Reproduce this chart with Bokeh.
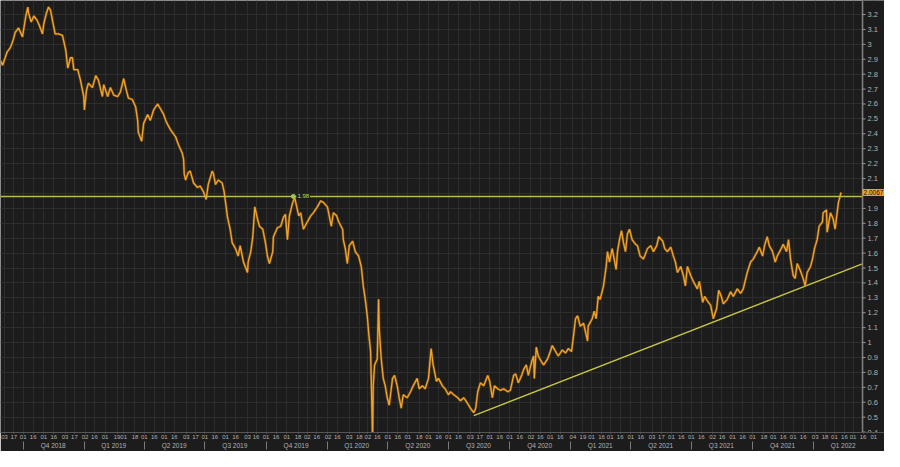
import pandas as pd
from bokeh.plotting import figure
from bokeh.models import (Range1d, LinearAxis, FixedTicker, Grid, Label,
                          CustomJSTickFormatter, ColumnDataSource)
from bokeh.core.properties import value
from bokeh.embed import file_html
from bokeh.resources import INLINE

# ---------------- data ----------------
dates = [
    "2018-08-28", "2018-08-31", "2018-09-07", "2018-09-12", "2018-09-16", "2018-09-19", "2018-09-24", "2018-09-30",
    "2018-10-01", "2018-10-05", "2018-10-08", "2018-10-09", "2018-10-13", "2018-10-17", "2018-10-22", "2018-10-25",
    "2018-10-30", "2018-11-01", "2018-11-05", "2018-11-08", "2018-11-11", "2018-11-14", "2018-11-18", "2018-11-23",
    "2018-11-29", "2018-12-04", "2018-12-07", "2018-12-11", "2018-12-14", "2018-12-16", "2018-12-22", "2018-12-26",
    "2018-12-31", "2019-01-01", "2019-01-04", "2019-01-07", "2019-01-13", "2019-01-18", "2019-01-22", "2019-01-28",
    "2019-01-30", "2019-02-05", "2019-02-09", "2019-02-14", "2019-02-20", "2019-02-24", "2019-03-01", "2019-03-04",
    "2019-03-08", "2019-03-14", "2019-03-19", "2019-03-22", "2019-03-23", "2019-03-28", "2019-03-31", "2019-04-06",
    "2019-04-10", "2019-04-15", "2019-04-21", "2019-04-25", "2019-04-30", "2019-05-04", "2019-05-10",
    "2019-05-18", "2019-05-22", "2019-05-28", "2019-05-30", "2019-05-31", "2019-06-02", "2019-06-06", "2019-06-09",
    "2019-06-14", "2019-06-20", "2019-06-24", "2019-06-29", "2019-07-03", "2019-07-06", "2019-07-12", "2019-07-14",
    "2019-07-17", "2019-07-21", "2019-07-27", "2019-07-30", "2019-08-02", "2019-08-04", "2019-08-08", "2019-08-11",
    "2019-08-16", "2019-08-20", "2019-08-23", "2019-08-28", "2019-09-03", "2019-09-04", "2019-09-08", "2019-09-11",
    "2019-09-14", "2019-09-18", "2019-09-21", "2019-09-26", "2019-09-30", "2019-10-03", "2019-10-06", "2019-10-11",
    "2019-10-12", "2019-10-18", "2019-10-23", "2019-10-27", "2019-10-30", "2019-11-02", "2019-11-05", "2019-11-10",
    "2019-11-13", "2019-11-16", "2019-11-19", "2019-11-22",
    "2019-11-26", "2019-12-02", "2019-12-07", "2019-12-11", "2019-12-17", "2019-12-22", "2019-12-26", "2020-01-01",
    "2020-01-03", "2020-01-07", "2020-01-10", "2020-01-15", "2020-01-18", "2020-01-24", "2020-01-25", "2020-01-28",
    "2020-01-31", "2020-02-03", "2020-02-08", "2020-02-12", "2020-02-17", "2020-02-21", "2020-02-24", "2020-02-27",
    "2020-03-01", "2020-03-03", "2020-03-06", "2020-03-07", "2020-03-09", "2020-03-10", "2020-03-12", "2020-03-16",
    "2020-03-18", "2020-03-19", "2020-03-22", "2020-03-25", "2020-03-28", "2020-03-31", "2020-04-03", "2020-04-08",
    "2020-04-11", "2020-04-15", "2020-04-18", "2020-04-21", "2020-04-24", "2020-04-30", "2020-05-05", "2020-05-09",
    "2020-05-15", "2020-05-18", "2020-05-23", "2020-05-27", "2020-06-01", "2020-06-05", "2020-06-08", "2020-06-13",
    "2020-06-16", "2020-06-22", "2020-06-26", "2020-07-01", "2020-07-04",
    "2020-07-09", "2020-07-15", "2020-07-19", "2020-07-24", "2020-07-30", "2020-08-03", "2020-08-08", "2020-08-11",
    "2020-08-14", "2020-08-18", "2020-08-23", "2020-08-29", "2020-09-01", "2020-09-05", "2020-09-08", "2020-09-13",
    "2020-09-17", "2020-09-22", "2020-09-28", "2020-10-02", "2020-10-07", "2020-10-10", "2020-10-14", "2020-10-19",
    "2020-10-22", "2020-10-26", "2020-10-29", "2020-11-03", "2020-11-06", "2020-11-07", "2020-11-10", "2020-11-13",
    "2020-11-18", "2020-11-21", "2020-11-27", "2020-12-01", "2020-12-04", "2020-12-09", "2020-12-13", "2020-12-19",
    "2020-12-24", "2020-12-28", "2021-01-02", "2021-01-05", "2021-01-08", "2021-01-11", "2021-01-15", "2021-01-20",
    "2021-01-23", "2021-01-26", "2021-01-27", "2021-02-02", "2021-02-05", "2021-02-08", "2021-02-11",
    "2021-02-14", "2021-02-19", "2021-02-23", "2021-02-25", "2021-02-28", "2021-03-04", "2021-03-07", "2021-03-10",
    "2021-03-12", "2021-03-15", "2021-03-18", "2021-03-21", "2021-03-24", "2021-03-27", "2021-03-30", "2021-04-03",
    "2021-04-08", "2021-04-11", "2021-04-15", "2021-04-20", "2021-04-26", "2021-05-01", "2021-05-05", "2021-05-10",
    "2021-05-13", "2021-05-19", "2021-05-22", "2021-05-26", "2021-05-31", "2021-06-04", "2021-06-07", "2021-06-10",
    "2021-06-15", "2021-06-19", "2021-06-22", "2021-06-25", "2021-06-30", "2021-07-04", "2021-07-10", "2021-07-13",
    "2021-07-18", "2021-07-21", "2021-07-25", "2021-07-30", "2021-08-03", "2021-08-08", "2021-08-11", "2021-08-15",
    "2021-08-18", "2021-08-24", "2021-08-29", "2021-09-02", "2021-09-08", "2021-09-13",
    "2021-09-17", "2021-09-23", "2021-09-28", "2021-10-02", "2021-10-08", "2021-10-11", "2021-10-16", "2021-10-19",
    "2021-10-23", "2021-10-26", "2021-10-31", "2021-11-04", "2021-11-07", "2021-11-13", "2021-11-16", "2021-11-21",
    "2021-11-24", "2021-11-27", "2021-12-01", "2021-12-04", "2021-12-07", "2021-12-12", "2021-12-16", "2021-12-19",
    "2021-12-22", "2021-12-27", "2021-12-30", "2022-01-02", "2022-01-06", "2022-01-09", "2022-01-14", "2022-01-15",
    "2022-01-20", "2022-01-21", "2022-01-26", "2022-01-30", "2022-02-02", "2022-02-05", "2022-02-07", "2022-02-10",
    "2022-02-11",
]
values = [
    2.89, 2.86, 2.95, 2.98, 3.03, 3.08, 3.11, 3.05,
    3.08, 3.19, 3.25, 3.21, 3.15, 3.19, 3.16, 3.13,
    3.07, 3.14, 3.21, 3.25, 3.23, 3.16, 3.07, 3.07,
    3.06, 2.96, 2.84, 2.91, 2.91, 2.83, 2.83, 2.76,
    2.65, 2.56, 2.69, 2.74, 2.71, 2.79, 2.76, 2.65,
    2.73, 2.65, 2.71, 2.66, 2.65, 2.68, 2.77, 2.71,
    2.64, 2.63, 2.58, 2.49, 2.41, 2.35, 2.47, 2.53,
    2.49, 2.56, 2.60, 2.57, 2.53, 2.48, 2.43,
    2.38, 2.33, 2.27, 2.23, 2.13, 2.09, 2.14, 2.15,
    2.07, 2.04, 2.05, 2.01, 1.96, 2.06, 2.15, 2.13,
    2.06, 2.09, 2.07, 2.01, 1.91, 1.84, 1.76, 1.67,
    1.63, 1.58, 1.65, 1.54, 1.47, 1.54, 1.61, 1.71,
    1.91, 1.83, 1.78, 1.76, 1.67, 1.58, 1.53, 1.61,
    1.71, 1.77, 1.78, 1.84, 1.86, 1.69, 1.85, 1.94,
    1.97, 1.91, 1.85, 1.87,
    1.76, 1.81, 1.85, 1.87, 1.91, 1.95, 1.94, 1.91,
    1.87, 1.78, 1.87, 1.85, 1.81, 1.76, 1.69, 1.63,
    1.53, 1.65, 1.68, 1.61, 1.58, 1.51, 1.38, 1.29,
    1.18, 1.07, 0.94, 0.76, 0.34, 0.71, 0.85, 0.89,
    1.29, 1.09, 0.89, 0.76, 0.71, 0.63, 0.58, 0.76,
    0.78, 0.71, 0.63, 0.56, 0.65, 0.63, 0.67, 0.71,
    0.76, 0.69, 0.71, 0.69, 0.76, 0.96, 0.85, 0.74,
    0.76, 0.71, 0.69, 0.65, 0.67,
    0.65, 0.63, 0.61, 0.63, 0.59, 0.56, 0.53, 0.56,
    0.67, 0.73, 0.71, 0.78, 0.74, 0.63, 0.71, 0.69,
    0.68, 0.69, 0.67, 0.68, 0.78, 0.79, 0.73, 0.78,
    0.82, 0.85, 0.78, 0.87, 0.91, 0.76, 0.97, 0.91,
    0.87, 0.85, 0.89, 0.94, 0.98, 0.94, 0.91, 0.95,
    0.93, 0.96, 0.94, 1.05, 1.16, 1.18, 1.11, 1.13,
    1.07, 1.01, 1.11, 1.16, 1.21, 1.16, 1.31,
    1.29, 1.38, 1.51, 1.61, 1.54, 1.63, 1.56, 1.49,
    1.61, 1.69, 1.75, 1.67, 1.61, 1.73, 1.76, 1.69,
    1.66, 1.65, 1.58, 1.56, 1.63, 1.65, 1.61, 1.65,
    1.71, 1.68, 1.63, 1.61, 1.64, 1.58, 1.54, 1.47,
    1.51, 1.45, 1.38, 1.51, 1.45, 1.41, 1.36, 1.41,
    1.27, 1.31, 1.28, 1.25, 1.16, 1.23, 1.35, 1.31,
    1.26, 1.29, 1.34, 1.31, 1.36, 1.33,
    1.36, 1.47, 1.54, 1.56, 1.61, 1.64, 1.58, 1.65,
    1.71, 1.65, 1.61, 1.54, 1.58, 1.63, 1.66, 1.61,
    1.69, 1.56, 1.45, 1.43, 1.53, 1.48, 1.43, 1.38,
    1.47, 1.51, 1.56, 1.63, 1.69, 1.78, 1.81, 1.87,
    1.89, 1.74, 1.87, 1.83, 1.76, 1.87, 1.94, 1.99,
    2.0067,
]

level_value = 1.98            # horizontal resistance level
level_date = "2019-11-11"     # where the 1.98 tag sits
last_value = 2.0067           # last-price tag on the value axis
trend_dates = ["2020-08-08", "2022-04-05"]
trend_values = [0.51, 1.565]

y_ticks = [0.4, 0.5, 0.6, 0.7, 0.8, 0.9, 1.0, 1.1, 1.2, 1.3, 1.4, 1.5, 1.6, 1.7, 1.8,
           1.9, 2.0, 2.1, 2.2, 2.3, 2.4, 2.5, 2.6, 2.7, 2.8, 2.9, 3.0, 3.1, 3.2]
quarter_starts = ["2018-10-01", "2019-01-01", "2019-04-01", "2019-07-01", "2019-10-01",
                  "2020-01-01", "2020-04-01", "2020-07-01", "2020-10-01", "2021-01-01",
                  "2021-04-01", "2021-07-01", "2021-10-01", "2022-01-01"]
quarter_mids = ["2018-11-15", "2019-02-14", "2019-05-16", "2019-08-15", "2019-11-15",
                "2020-02-14", "2020-05-16", "2020-08-15", "2020-11-15", "2021-02-14",
                "2021-05-16", "2021-08-15", "2021-11-15", "2022-02-14"]
quarter_labels = ["Q4 2018", "Q1 2019", "Q2 2019", "Q3 2019", "Q4 2019", "Q1 2020",
                  "Q2 2020", "Q3 2020", "Q4 2020", "Q1 2021", "Q2 2021", "Q3 2021",
                  "Q4 2021", "Q1 2022"]
holidays = ["2019-01-01", "2019-02-18", "2019-09-02", "2020-01-01", "2020-02-17",
            "2021-01-01", "2021-01-18", "2022-01-17"]

x_start, x_end = "2018-08-27 21:36", "2022-04-17 05:00"
axis_date = "2022-03-15 05:00"      # position of the value-axis line
y_start, y_end = 0.397, 3.294

# ---------------- styling ----------------
BG = "#1c1c1c"
GRID = "#2d2d2d"
AXIS_TXT = "#b2b2b2"
FONT = "Liberation Sans"
W, H = 884, 451


def ms(s):
    return pd.Timestamp(s).value / 1e6


# day ticks: 1st and 16th of each month, moved to the next business day
hol = set(pd.to_datetime(holidays))
day_ms = []
for m in pd.date_range("2018-09-01", "2022-04-01", freq="MS"):
    for dd in (1, 16):
        d = m + pd.Timedelta(days=dd - 1)
        while d.weekday() >= 5 or d in hol:
            d += pd.Timedelta(days=1)
        day_ms.append(d.value / 1e6)

src = ColumnDataSource(dict(date=pd.to_datetime(dates), value=values))

p = figure(width=W, height=H, output_backend="svg", toolbar_location=None,
           x_axis_type=None, y_axis_type=None,
           x_range=Range1d(ms(x_start), ms(x_end)), y_range=Range1d(y_start, y_end),
           background_fill_color=BG, border_fill_color=BG, outline_line_color=None,
           min_border_left=0, min_border_top=0, min_border_right=0, min_border_bottom=18)

day_ticker = FixedTicker(ticks=day_ms)
y_ticker = FixedTicker(ticks=y_ticks)
p.add_layout(Grid(dimension=0, ticker=day_ticker, grid_line_color=GRID, grid_line_width=1))
p.add_layout(Grid(dimension=1, ticker=y_ticker, grid_line_color=GRID, grid_line_width=1))

# bottom: day-of-month row
dax = LinearAxis(ticker=day_ticker,
                 formatter=CustomJSTickFormatter(
                     code="const d = new Date(tick); return String(d.getUTCDate()).padStart(2, '0');"),
                 axis_line_color="#555555", major_tick_line_color="#666666",
                 major_tick_out=1, major_tick_in=0, minor_tick_line_color=None,
                 major_label_standoff=1, major_label_text_font=FONT,
                 major_label_text_font_size="6px", major_label_text_color=AXIS_TXT)
p.add_layout(dax, "below")

# bottom: quarter row with separators
q_mid_ms = [ms(d) for d in quarter_mids]
qax = LinearAxis(ticker=FixedTicker(ticks=q_mid_ms, minor_ticks=[ms(d) for d in quarter_starts]),
                 major_label_overrides={k: lab for k, lab in zip(q_mid_ms, quarter_labels)},
                 axis_line_color=None, major_tick_line_color=None, major_tick_out=0, major_tick_in=0,
                 minor_tick_line_color="#7a7a7a", minor_tick_out=0, minor_tick_in=-8,
                 major_label_standoff=0, major_label_text_font=FONT,
                 major_label_text_font_size="6.5px", major_label_text_color=AXIS_TXT)
p.add_layout(qax, "below")

# trend line and the series
p.line(pd.to_datetime(trend_dates), trend_values, line_color="#c8c840", line_width=1.2)
p.line("date", "value", source=src, line_color="#8a5a12", line_width=2.6, line_alpha=0.7)
p.line("date", "value", source=src, line_color="#f2a42a", line_width=1.3)

# value-axis panel on the right (drawn inside the frame so the price tag can show)
ax_ms = ms(axis_date)
px_ms = (ms(x_end) - ms(x_start)) / W
p.quad(left=[ax_ms], right=[ms(x_end)], bottom=[y_start], top=[y_end],
       fill_color=BG, line_color=None)
p.segment(x0=[ms(x_start)], x1=[ax_ms], y0=[level_value], y1=[level_value],
          line_color="#b9b95a", line_width=1.6)
p.segment(x0=[ax_ms], x1=[ax_ms], y0=[y_start], y1=[y_end], line_color="#7e7e7e", line_width=1.6)
p.segment(x0=[ax_ms] * len(y_ticks), x1=[ax_ms + 3 * px_ms] * len(y_ticks),
          y0=y_ticks, y1=y_ticks, line_color="#9a9a9a", line_width=1)
p.text(x=[ax_ms] * len(y_ticks), y=y_ticks, text=[f"{t:g}" for t in y_ticks],
       x_offset=5, text_baseline="middle", text_align="left",
       text_font=value(FONT), text_font_size="7.5px", text_color=AXIS_TXT)

p.scatter([ms(level_date)], [level_value], size=4, color="#a9c44a")
p.add_layout(Label(x=ms(level_date), y=level_value, x_offset=3, text="1.98",
                   text_baseline="middle", text_align="left", text_font=FONT,
                   text_font_size="6px", text_color="#c9df62",
                   background_fill_color=BG, padding=1))

p.add_layout(Label(x=ax_ms, y=last_value, x_offset=0, text=f"{last_value}",
                   text_baseline="middle", text_align="left", text_font=FONT,
                   text_font_size="6.5px", text_color="#111111",
                   background_fill_color="#efa12c", padding=1))

open("out.html", "w").write(file_html(p, INLINE))
